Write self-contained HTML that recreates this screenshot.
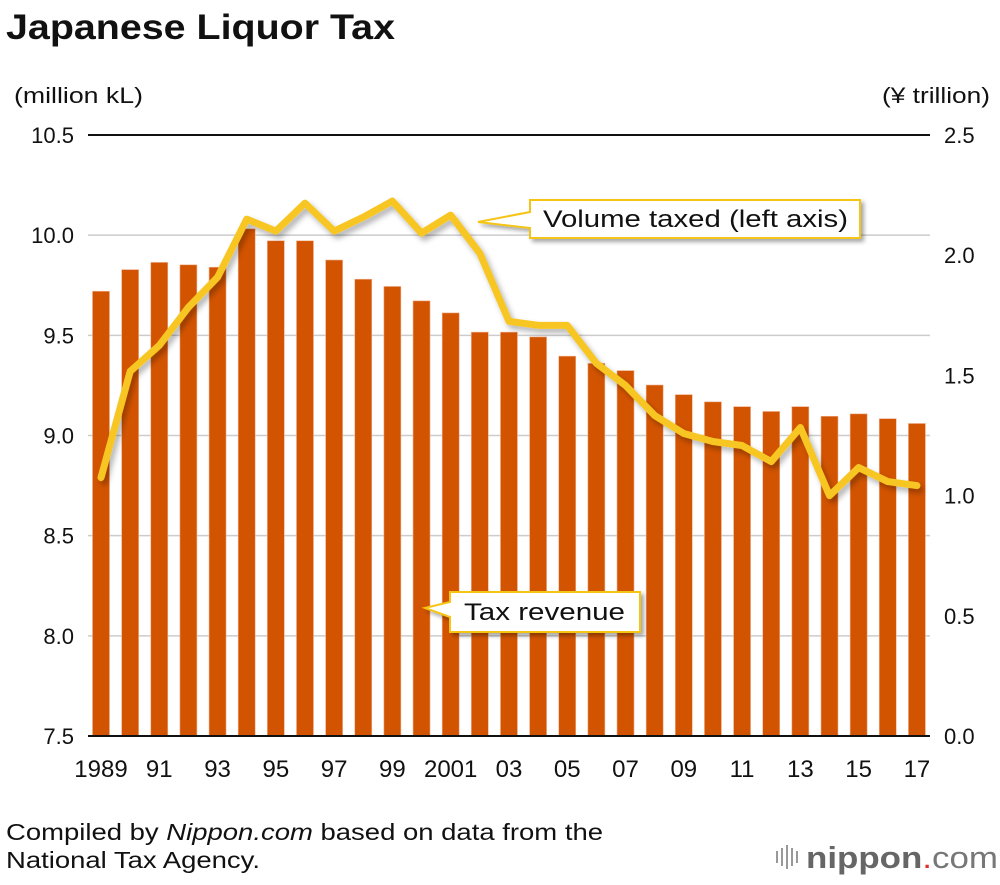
<!DOCTYPE html>
<html><head><meta charset="utf-8"><style>
body{margin:0;background:#fff;font-family:"Liberation Sans",sans-serif;}
svg text{font-family:"Liberation Sans",sans-serif;}
</style></head><body>
<svg id="chart" width="1000" height="880" viewBox="0 0 1000 880">
<defs><filter id="sh" x="-10%" y="-20%" width="130%" height="160%"><feDropShadow dx="3" dy="3" stdDeviation="2" flood-color="#000" flood-opacity="0.35"/></filter>
<filter id="lsh" x="-5%" y="-5%" width="110%" height="120%"><feDropShadow dx="3" dy="4" stdDeviation="3" flood-color="#000" flood-opacity="0.3"/></filter></defs>
<text x="6" y="39" font-size="35" font-weight="bold" fill="#111" textLength="389" lengthAdjust="spacingAndGlyphs">Japanese Liquor Tax</text>
<text x="14" y="103" font-size="22" fill="#111" textLength="129" lengthAdjust="spacingAndGlyphs">(million kL)</text>
<text x="882" y="103" font-size="22" fill="#111" textLength="108" lengthAdjust="spacingAndGlyphs">(¥ trillion)</text>
<g id="grid"></g><g id="bars"></g><g id="line"></g><g id="axes"></g>
<g>
<path d="M530,200 L860,200 L860,238 L530,238 L530,228 L478,222 L530,212 Z" fill="#fff" stroke="#f5c518" stroke-width="2" filter="url(#sh)"/>
<text x="543" y="227" font-size="24" fill="#111" textLength="305" lengthAdjust="spacingAndGlyphs">Volume taxed (left axis)</text></g>
<g>
<path d="M450,592 L640,592 L640,632 L450,632 L450,617 L425,608 L450,602 Z" fill="#fff" stroke="#f5c518" stroke-width="2" filter="url(#sh)"/>
<text x="464" y="620" font-size="24" fill="#111" textLength="161" lengthAdjust="spacingAndGlyphs">Tax revenue</text></g>
<text x="6" y="840" font-size="23" fill="#111" textLength="597" lengthAdjust="spacingAndGlyphs">Compiled by <tspan font-style="italic">Nippon.com</tspan> based on data from the</text>
<text x="6" y="868" font-size="23" fill="#111" textLength="254" lengthAdjust="spacingAndGlyphs">National Tax Agency.</text>
<g>
<rect x="776" y="851" width="2" height="12" fill="#999"/><rect x="781" y="848" width="2" height="18" fill="#999"/><rect x="786" y="845" width="2" height="24" fill="#999"/><rect x="791" y="848" width="2" height="18" fill="#999"/><rect x="796" y="851" width="2" height="12" fill="#999"/>
<text x="806" y="868" font-size="31" fill="#777" textLength="192" lengthAdjust="spacingAndGlyphs"><tspan font-weight="bold" fill="#666">nippon</tspan><tspan fill="#e03030">.</tspan>com</text></g>
</svg>
<script>
const years=[1989,1990,1991,1992,1993,1994,1995,1996,1997,1998,1999,2000,2001,2002,2003,2004,2005,2006,2007,2008,2009,2010,2011,2012,2013,2014,2015,2016,2017];
const revenue=[1.85,1.94,1.97,1.96,1.95,2.11,2.06,2.06,1.98,1.90,1.87,1.81,1.76,1.68,1.68,1.66,1.58,1.55,1.52,1.46,1.42,1.39,1.37,1.35,1.37,1.33,1.34,1.32,1.30];
const volume=[8.79,9.32,9.45,9.64,9.79,10.08,10.02,10.16,10.02,10.09,10.17,10.01,10.10,9.91,9.57,9.55,9.55,9.36,9.25,9.10,9.01,8.97,8.95,8.87,9.04,8.70,8.84,8.77,8.75];
const leftTicks=[7.5,8.0,8.5,9.0,9.5,10.0,10.5];
const rightTicks=[0.0,0.5,1.0,1.5,2.0,2.5];
const xLabels=["1989","91","93","95","97","99","2001","03","05","07","09","11","13","15","17"];
const NS="http://www.w3.org/2000/svg";
const top_=135,bot=736,x0=101,dx=29.14;
const yL=v=>bot-(v-7.5)/3*(bot-top_);
const yR=v=>bot-v/2.5*(bot-top_);
const xS=i=>x0+i*dx;
function mk(t,a,p){const e=document.createElementNS(NS,t);for(const k in a)e.setAttribute(k,a[k]);p.appendChild(e);return e;}
const grid=document.getElementById('grid'),bars=document.getElementById('bars'),line=document.getElementById('line'),axes=document.getElementById('axes');
leftTicks.forEach((v,i)=>{
 const y=yL(v);
 const g=mk('line',{x1:88,x2:930,y1:y,y2:y,stroke:i==leftTicks.length-1?'#111':'#ccc','stroke-width':i==leftTicks.length-1?2:1.5},grid);
 
 
 const t=mk('text',{x:74,y:y+8,'font-size':22,'text-anchor':'end',fill:'#111'},axes);
 t.textContent=v.toFixed(1);
 
 
});
rightTicks.forEach(v=>{
 const t=mk('text',{x:944,y:yR(v)+8,'font-size':22,fill:'#111'},axes);
 t.textContent=v.toFixed(1);
 
 
});
revenue.forEach((v,i)=>{
 const r=mk('rect',{x:xS(i)-8.5,y:yR(v),width:17,height:bot-yR(v),fill:'#d35400',stroke:'#f0b090','stroke-width':0.6},bars);
 
 
});
const pts=volume.map((v,i)=>xS(i)+','+yL(v)).join(' ');
const l=mk('polyline',{points:pts,fill:'none',stroke:'#f7c623','stroke-width':7,'stroke-linejoin':'round','stroke-linecap':'round',filter:'url(#lsh)'},line);


const bl=mk('line',{x1:88,x2:930,y1:bot,y2:bot,stroke:'#111','stroke-width':2},axes);


xLabels.forEach((s,k)=>{
 const t=mk('text',{x:xS(k*2),y:777,'font-size':24,'text-anchor':'middle',fill:'#111'},axes);
 t.textContent=s;
 
 
});
</script>
</body></html>
